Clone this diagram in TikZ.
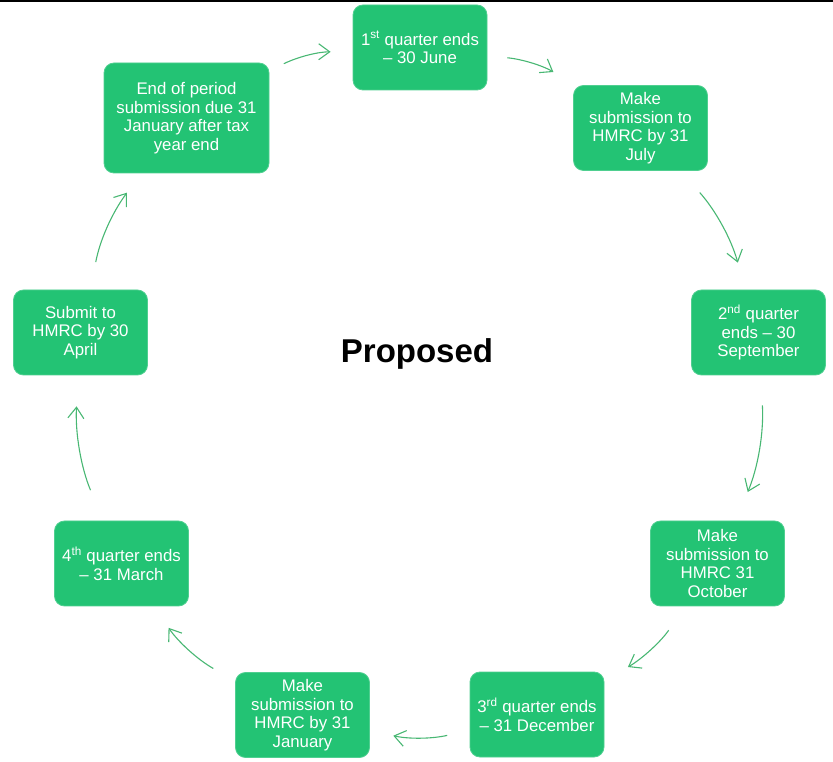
\documentclass[tikz,border=0pt]{standalone}
\usepackage{fontspec}
\setmainfont{Liberation Sans}
\usetikzlibrary{arrows.meta}
\definecolor{boxgreen}{RGB}{35,195,116}
\definecolor{arrowgreen}{RGB}{72,183,115}

\begin{document}
\begin{tikzpicture}[x=1pt,y=1pt,>={Straight Barb[length=11pt,width=16pt]},
    main node/.style={rectangle,rounded corners=10pt,fill=boxgreen,draw=boxgreen!80!white,line width=0.8pt,text=white,align=center,minimum width=134pt,minimum height=85pt,inner sep=0pt,font=\fontsize{16.8}{18.6}\selectfont},
    wide node/.style={main node,minimum width=165pt,minimum height=110pt},
    cycle edge/.style={arrowgreen,line width=1.1pt,bend left=13,shorten <=26pt,shorten >=26pt}]
  \useasboundingbox (0,0) rectangle (833,761);
  \draw[line width=2pt] (0,760) -- (833,760);

  \node[main node] at (420, 713.5) (q1) {1\textsuperscript{st} quarter ends\\\textendash{} 30 June};
  \node[main node] at (640.5, 633) (jul) {Make\\submission to\\HMRC by 31\\July};
  \node[main node] at (758.5, 428.5) (q2) {2\textsuperscript{nd} quarter\\ends \textendash{} 30\\September};
  \node[main node] at (717.5, 197.5) (oct) {Make\\submission to\\HMRC 31\\October};
  \node[main node] at (537, 46.5) (q3) {3\textsuperscript{rd} quarter ends\\\textendash{} 31 December};
  \node[main node] at (302.5, 46) (jan) {Make\\submission to\\HMRC by 31\\January};
  \node[main node] at (121.5, 197.5) (q4) {4\textsuperscript{th} quarter ends\\\textendash{} 31 March};
  \node[main node] at (80.5, 428.5) (apr) {Submit to\\HMRC by 30\\April};
  \node[wide node] at (186.5, 643) (end) {End of period\\submission due 31\\January after tax\\year end};
  \node[font=\bfseries\fontsize{33}{38}\selectfont] at (417, 407) (title) {Proposed};

  \path[->] (end) edge[cycle edge, shorten <=16pt, shorten >=22pt] (q1);
  \path[->] (q1) edge[cycle edge, shorten <=20pt, shorten >=25pt] (jul);
  \path[->] (jul) edge[cycle edge, shorten <=29pt, shorten >=28pt] (q2);
  \path[->] (q2) edge[cycle edge, shorten <=30pt, shorten >=31pt] (oct);
  \path[->] (oct) edge[cycle edge, shorten <=29pt, shorten >=27pt] (q3);
  \path[->] (q3) edge[cycle edge, shorten <=23pt, shorten >=24pt] (jan);
  \path[->] (jan) edge[cycle edge, shorten <=25pt, shorten >=26pt] (q4);
  \path[->] (q4) edge[cycle edge, shorten <=33pt, shorten >=31pt] (apr);
  \path[->] (apr) edge[cycle edge, shorten <=28pt, shorten >=24pt] (end);
\end{tikzpicture}
\end{document}
